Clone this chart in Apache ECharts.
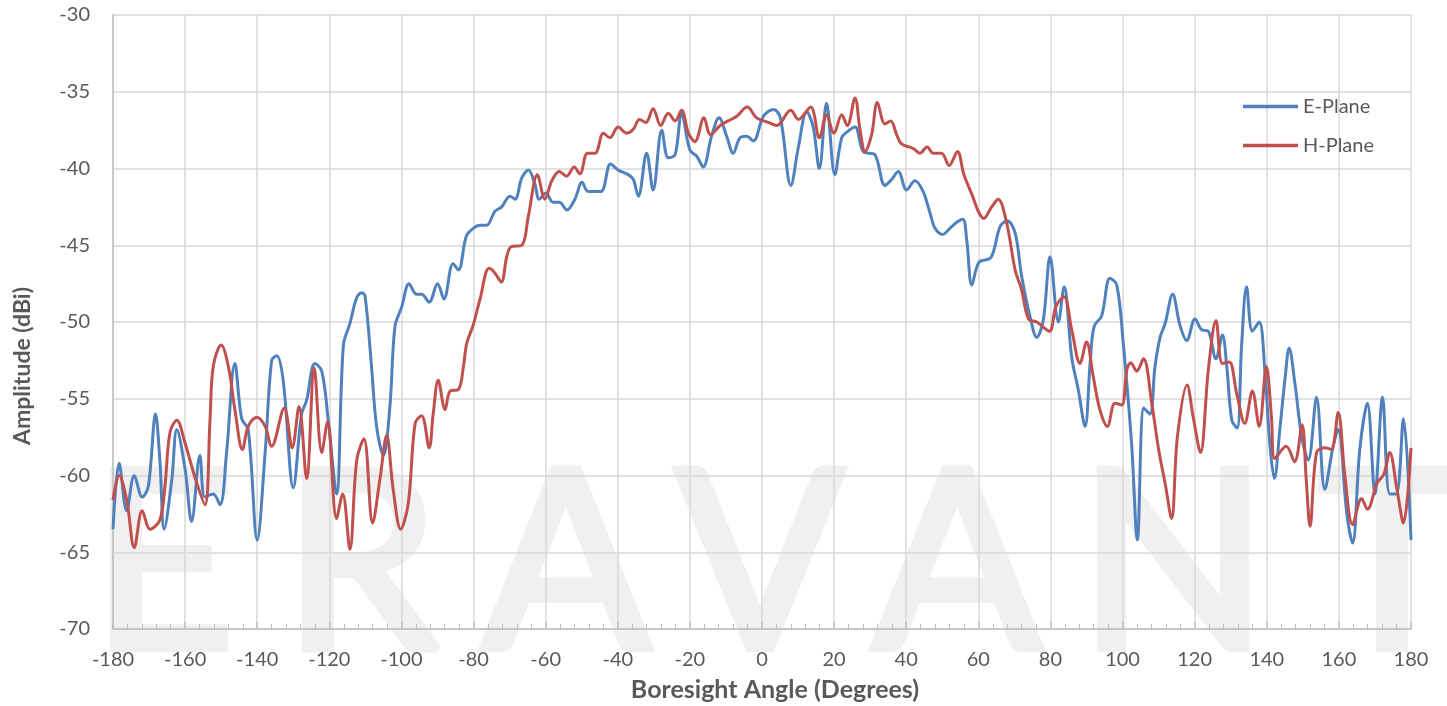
<!DOCTYPE html>
<html>
<head>
<meta charset="utf-8">
<script src="https://cdn.jsdelivr.net/npm/echarts@6/dist/echarts.min.js"></script>
<style>
html,body{margin:0;padding:0;background:#fff;}
#chart{width:1447px;height:706px;}
</style>
</head>
<body>
<div id="chart"></div>
<script>
// ---- data ----
const xTickLabels = [-180,-160,-140,-120,-100,-80,-60,-40,-20,0,20,40,60,80,100,120,140,160,180];
const yTickLabels = [-70,-65,-60,-55,-50,-45,-40,-35,-30];

const eAngles = [-180,-178.3,-176.2,-174.1,-171.9,-170.2,-168.2,-167,-165.8,-163.7,-162.3,-160,-158.2,-155.9,-154.5,-152.2,-150.3,-148.5,-146.2,-144.3,-142.5,-140,-137.8,-136,-134.6,-132.8,-130,-127.7,-126.3,-124,-122.1,-120.3,-118,-116.1,-114.3,-112.4,-111,-110.1,-108.3,-106.9,-105,-103.2,-101.8,-99.9,-97.9,-95.8,-94.4,-92.3,-90,-88.2,-85.7,-84.2,-82,-80.1,-78.2,-76.4,-74.1,-72.2,-69.9,-68.5,-66.6,-64.8,-63,-61.8,-59.9,-58,-56.2,-54.1,-51.9,-49.9,-48.2,-44.7,-42,-39.9,-37.1,-35.7,-34.3,-32,-30.2,-27.8,-26,-24.1,-22.3,-20,-18.1,-16.3,-14,-11.9,-9.8,-8,-6.1,-4.3,-2.4,0.4,3.2,5.1,8,10.1,12.4,14.2,15.9,17.9,20.2,22.1,23.7,25.8,28.1,31.3,34.1,36,37.8,40.1,42.4,44.7,46.6,48,50.1,52.1,54,55.7,56.8,58.2,60.2,63.5,66,68,70.2,72,74.3,76.2,78,79.9,82.2,83.8,85.9,87.7,89.6,91,92.1,94.2,96.5,98.4,100.2,102.5,104.1,105.9,107.6,109,110.4,111.8,113.9,115.9,117.8,120.1,121.9,123.8,125.9,127.7,128.9,130.3,131.8,133,134.4,136,137.9,139.5,140.9,142.1,143.7,145.1,146.2,147.8,149.7,151.5,153.8,156.1,158.4,159.8,162.2,163.8,165.8,167.9,170,172.1,174.1,175.9,177.9,180];
const eValues = [-63.5,-59.2,-62.3,-60.0,-61.4,-60.7,-56.0,-59.0,-63.5,-60.3,-57.0,-59.6,-63.0,-58.7,-61.4,-61.2,-61.9,-58.5,-52.7,-56.3,-57.0,-64.2,-58.5,-52.5,-52.2,-53.8,-60.8,-56.0,-55.1,-52.7,-53.2,-56.4,-61.2,-51.5,-50.1,-48.4,-48.1,-48.3,-52.9,-56.8,-58.7,-55.5,-50.3,-49.0,-47.5,-48.2,-48.2,-48.7,-47.5,-48.5,-46.2,-46.6,-44.4,-43.9,-43.7,-43.7,-42.8,-42.5,-41.8,-42.0,-40.6,-40.1,-41.0,-42.0,-41.6,-42.2,-42.2,-42.7,-42.0,-40.9,-41.5,-41.5,-39.7,-40.1,-40.4,-40.7,-41.8,-39.0,-41.4,-37.5,-39.3,-39.1,-36.4,-38.8,-39.2,-39.9,-37.9,-36.7,-37.9,-39.0,-38.0,-37.9,-38.2,-36.6,-36.15,-36.7,-41.1,-38.6,-36.3,-37.3,-40.0,-35.75,-40.4,-38.0,-37.6,-37.3,-38.9,-39.1,-41.1,-40.7,-40.2,-41.4,-40.8,-41.5,-42.9,-43.9,-44.3,-43.9,-43.5,-43.3,-44.7,-47.6,-46.1,-45.8,-43.8,-43.4,-44.2,-47.0,-49.6,-51.0,-49.9,-45.75,-50.0,-47.7,-52.3,-54.4,-56.8,-52.7,-50.3,-49.6,-47.15,-47.6,-51.4,-57.9,-64.2,-55.6,-56.0,-52.9,-51.0,-50.1,-48.2,-50.2,-51.2,-49.8,-50.5,-50.6,-52.4,-50.85,-52.9,-56.4,-56.9,-51.6,-47.7,-50.6,-50.0,-53.3,-58.1,-60.2,-56.8,-53.6,-51.7,-54.0,-57.5,-59.0,-54.9,-60.9,-58.1,-57.0,-62.5,-64.4,-58.3,-55.3,-61.2,-54.9,-61.2,-61.2,-56.3,-64.2];

const hAngles = [-180,-178.3,-176.2,-174.1,-171.9,-169.7,-167,-165.6,-164.2,-162.3,-160,-157.3,-154.5,-153.1,-152.2,-150,-148,-146.2,-144.1,-142.5,-140.1,-137.8,-136,-132.5,-130.3,-128.4,-126.3,-124.2,-122.1,-120.5,-118,-116.3,-114.3,-112.4,-110.4,-108,-106,-104.1,-102.3,-100.2,-98.1,-96.2,-94.4,-92.3,-91.2,-89.8,-87.9,-86.5,-84.2,-82.8,-81.9,-80.1,-78.2,-75.7,-74.1,-72.3,-70.8,-69.6,-66.6,-64.8,-62.3,-60.2,-58.3,-56.2,-54.2,-52.1,-50.5,-48.4,-46.3,-44,-42.2,-39.9,-37.5,-35.7,-34,-32.2,-30.2,-28.1,-26,-24.1,-22.3,-20.4,-18.6,-16.1,-14.3,-11.6,-9.4,-7,-4.1,-1.5,1.75,4.1,7.95,10.1,13.5,15.9,17.9,19.95,22.1,23.65,25.8,27.2,28.6,30.4,32,34.1,35.7,37.35,38.7,42,43.8,45.8,47.5,49.8,51.9,54.2,56,58.4,60,61.5,63.7,65.5,67.9,70.2,72,73.9,76.2,79.7,81.5,83.75,85.9,88.2,90,91.9,93.7,95.8,97.9,99.8,101.2,102.3,103.9,105.8,108.1,110,111.8,113.6,115.2,117.9,119.6,121.6,123.8,125.9,127.7,129.6,131.6,133.9,136,137.9,139.9,141.3,142.2,145.4,147.7,149.8,150.9,152,153.8,156.1,157.9,159.8,161.7,163.8,166.3,167.9,170.6,172.5,174.1,176.1,177.9,180];
const hValues = [-61.6,-60.0,-61.6,-64.7,-62.3,-63.5,-62.9,-60.7,-57.2,-56.4,-57.9,-60.1,-61.9,-56.4,-52.9,-51.5,-52.9,-55.7,-58.3,-56.8,-56.2,-56.8,-58.1,-55.6,-58.2,-55.5,-60.2,-53.0,-58.5,-56.5,-62.8,-61.2,-64.8,-59.0,-57.6,-63.1,-60.3,-57.4,-60.9,-63.5,-61.8,-56.6,-56.1,-58.2,-56.0,-53.8,-55.7,-54.5,-54.4,-52.9,-51.4,-50.2,-48.5,-46.5,-46.8,-47.4,-45.75,-45.1,-45.0,-43.1,-40.4,-42.0,-40.8,-40.2,-40.5,-39.9,-40.35,-39.0,-39.0,-37.7,-38.0,-37.3,-37.7,-37.45,-36.8,-37.0,-36.1,-37.2,-36.4,-36.9,-36.2,-37.7,-38.25,-36.7,-37.8,-37.2,-36.9,-36.6,-36.0,-36.7,-37.0,-37.2,-36.2,-36.8,-36.0,-38.0,-36.5,-37.7,-36.5,-37.2,-35.4,-37.5,-38.9,-37.8,-35.7,-37.1,-36.9,-37.8,-38.4,-38.7,-39.0,-38.6,-39.0,-39.0,-39.8,-38.9,-40.4,-41.8,-42.8,-43.25,-42.5,-42.0,-43.6,-46.6,-47.9,-49.8,-50.0,-50.6,-49.0,-48.35,-50.5,-52.7,-51.3,-53.6,-55.7,-56.8,-55.3,-55.4,-53.1,-52.65,-53.2,-52.4,-55.3,-58.3,-60.5,-62.8,-57.5,-54.1,-56.2,-58.5,-53.1,-49.9,-52.7,-52.6,-54.6,-56.6,-54.5,-56.8,-52.9,-56.2,-58.9,-58.1,-59.1,-56.7,-60.1,-63.3,-58.5,-58.2,-58.3,-55.9,-60.1,-63.2,-61.5,-62.2,-60.5,-59.9,-58.5,-60.9,-63.1,-58.2];

const seriesNames = ['E-Plane','H-Plane'];
const watermarkLetters = ['E','R','A','V','A','N','T'];

// ---- chart ----
const FONT = 'Lato';
const TXT = '#595959';
const chart = echarts.init(document.getElementById('chart'));

const wmX = [163, 361, 566, 760, 957, 1173, 1392];
const wmGraphics = watermarkLetters.map((ch, i) => ({
  type: 'text',
  x: wmX[i],
  y: 568,
  z: -10,
  silent: true,
  style: {
    text: ch,
    fontFamily: FONT,
    fontSize: 248,
    fontWeight: 'normal',
    fill: '#f0f0f0',
    stroke: '#f0f0f0',
    lineWidth: 8,
    align: 'center',
    verticalAlign: 'middle'
  }
}));

const option = {
  backgroundColor: '#ffffff',
  animation: false,
  textStyle: { fontFamily: FONT },
  grid: { left: 113, right: 36, top: 15, bottom: 77, containLabel: false },
  legend: {
    data: seriesNames.map(n => ({ name: n, icon: 'rect' })),
    orient: 'vertical',
    left: 1243,
    top: 96,
    padding: 0,
    itemWidth: 55,
    itemHeight: 3.5,
    itemGap: 18,
    textStyle: { fontFamily: FONT, fontSize: 20, color: TXT, lineHeight: 21 }
  },
  graphic: wmGraphics.concat([
    {
      type: 'text', x: 775, y: 690, silent: true,
      style: { text: 'Boresight Angle (Degrees)', fontFamily: FONT, fontSize: 25, fontWeight: 'bold', fill: TXT, align: 'center', verticalAlign: 'middle' }
    },
    {
      type: 'text', x: 23, y: 366, rotation: Math.PI / 2, silent: true,
      style: { text: 'Amplitude (dBi)', fontFamily: FONT, fontSize: 23, fontWeight: 'bold', fill: TXT, align: 'center', verticalAlign: 'middle' }
    }
  ]),
  xAxis: {
    type: 'value',
    min: xTickLabels[0],
    max: xTickLabels[xTickLabels.length - 1],
    interval: 20,
    axisLine: { show: true, onZero: false, lineStyle: { color: '#bfbfbf', width: 1.5 } },
    axisTick: { show: true, inside: true, length: 7, lineStyle: { color: '#bfbfbf', width: 1.5 } },
    minorTick: { show: true, splitNumber: 5, length: 5, lineStyle: { color: '#bfbfbf', width: 1 } },
    axisLabel: { color: TXT, fontFamily: FONT, fontSize: 20, margin: 21 },
    splitLine: { show: true, lineStyle: { color: '#d9d9d9', width: 1.5 } }
  },
  yAxis: {
    type: 'value',
    min: yTickLabels[0],
    max: yTickLabels[yTickLabels.length - 1],
    interval: 5,
    axisLine: { show: true, onZero: false, lineStyle: { color: '#bfbfbf', width: 1.5 } },
    axisTick: { show: false },
    axisLabel: { color: TXT, fontFamily: FONT, fontSize: 20, margin: 23 },
    splitLine: { show: true, lineStyle: { color: '#d9d9d9', width: 1.5 } }
  },
  series: [
    {
      name: seriesNames[0],
      type: 'line',
      data: eAngles.map((a, i) => [a, eValues[i]]),
      smooth: 0.35,
      symbol: 'none',
      lineStyle: { color: '#4F81BD', width: 3 },
      itemStyle: { color: '#4F81BD' },
      z: 3
    },
    {
      name: seriesNames[1],
      type: 'line',
      data: hAngles.map((a, i) => [a, hValues[i]]),
      smooth: 0.35,
      symbol: 'none',
      lineStyle: { color: '#C0504D', width: 3 },
      itemStyle: { color: '#C0504D' },
      z: 4
    }
  ]
};
chart.setOption(option);
</script>
</body>
</html>
